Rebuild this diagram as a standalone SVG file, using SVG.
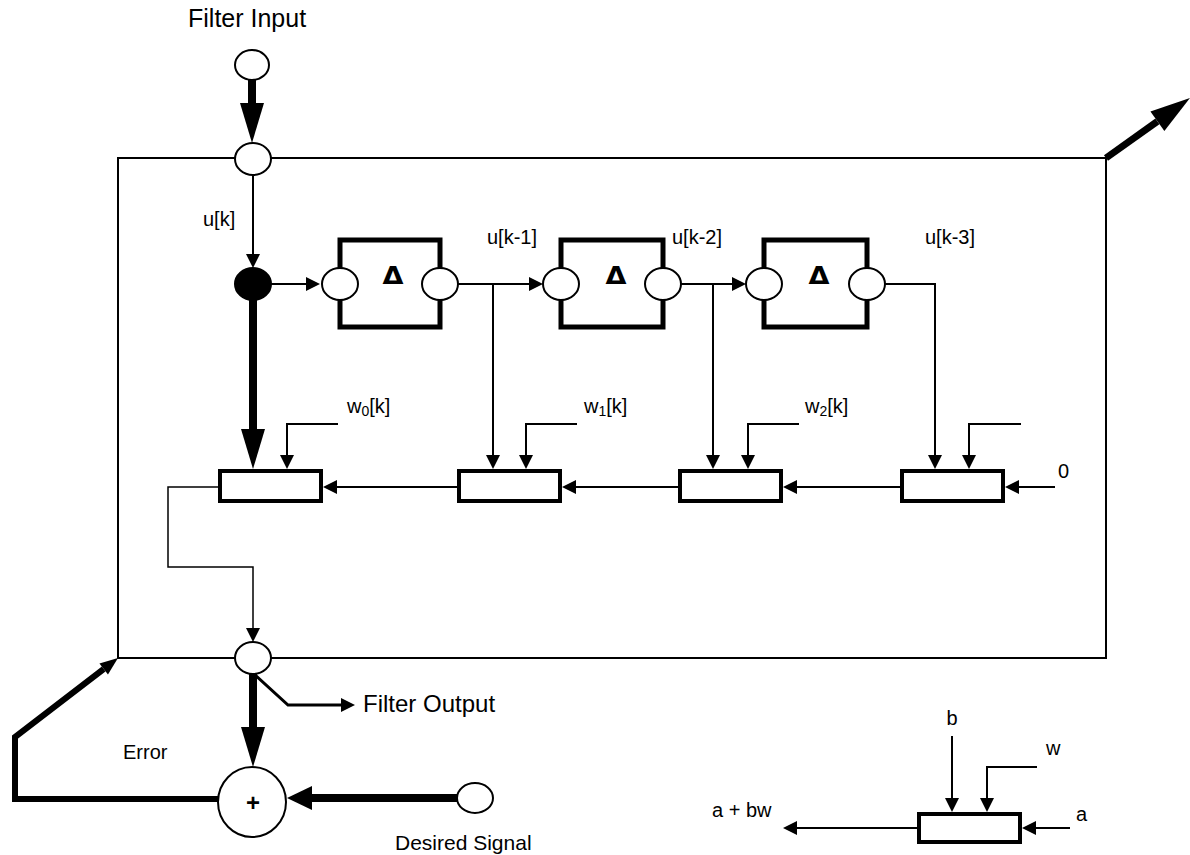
<svg xmlns="http://www.w3.org/2000/svg" width="1190" height="855" viewBox="0 0 1190 855">
<defs>
<style>
.t{font-family:"Liberation Sans",Arial,sans-serif;fill:#000}
.lbl{font-size:20px}
.thin{fill:none;stroke:#000;stroke-width:2}
.hair{fill:none;stroke:#000;stroke-width:1.5}
.thick{fill:none;stroke:#000;stroke-width:8}
.mid{fill:none;stroke:#000;stroke-width:6}
.node{fill:#fff;stroke:#000;stroke-width:2}
.box{fill:#fff;stroke:#000;stroke-width:5}
.mul{fill:#fff;stroke:#000;stroke-width:4}
.delta{font-family:"DejaVu Sans",sans-serif;font-size:24px;font-weight:bold;text-anchor:middle}
</style>
<marker id="ah" markerUnits="userSpaceOnUse" markerWidth="14" markerHeight="14" refX="0" refY="7" orient="auto" overflow="visible"><path d="M0,0 L14,7 L0,14 Z" fill="#000"/></marker>
<marker id="ahL" markerUnits="userSpaceOnUse" markerWidth="40" markerHeight="24" refX="0" refY="12" orient="auto" overflow="visible"><path d="M0,0 L40,12 L0,24 Z" fill="#000"/></marker>
<marker id="ahS" markerUnits="userSpaceOnUse" markerWidth="24" markerHeight="24" refX="0" refY="12" orient="auto" overflow="visible"><path d="M0,0 L25,12 L0,24 Z" fill="#000"/></marker>
<marker id="ahE" markerUnits="userSpaceOnUse" markerWidth="18" markerHeight="14" refX="0" refY="7" orient="auto" overflow="visible"><path d="M0,0 L18,7 L0,14 Z" fill="#000"/></marker>
</defs>
<rect width="1190" height="855" fill="#fff"/>

<g id="frame"><rect x="118" y="158" width="988" height="500" class="thin"/></g>

<g id="connectors">
<path d="M252,80 V103" class="thick" marker-end="url(#ahL)"/>
<path d="M253,175 V254" class="thin" marker-end="url(#ah)"/>
<path d="M271,284 H306" class="thin" marker-end="url(#ah)"/>
<path d="M458,284 H529" class="thin" marker-end="url(#ah)"/>
<path d="M681,284 H732" class="thin" marker-end="url(#ah)"/>
<path d="M493,284 V455" class="thin" marker-end="url(#ah)"/>
<path d="M713,284 V455" class="thin" marker-end="url(#ah)"/>
<path d="M885,284 H935 V455" class="thin" marker-end="url(#ah)"/>
<path d="M253,300 V429" class="thick" marker-end="url(#ahL)"/>
<path d="M338,424 H287 V455" class="thin" marker-end="url(#ah)"/>
<path d="M577,424 H526 V455" class="thin" marker-end="url(#ah)"/>
<path d="M799,424 H748 V455" class="thin" marker-end="url(#ah)"/>
<path d="M1021,424 H969 V455" class="thin" marker-end="url(#ah)"/>
<path d="M1055,487 H1019" class="thin" marker-end="url(#ah)"/>
<path d="M902,487 H797" class="thin" marker-end="url(#ah)"/>
<path d="M680,487 H576" class="thin" marker-end="url(#ah)"/>
<path d="M459,487 H337" class="thin" marker-end="url(#ah)"/>
<path d="M218,487 H168 V567 H253 V628" class="hair" marker-end="url(#ah)"/>
<path d="M253,673 V727" class="thick" marker-end="url(#ahL)"/>
<path d="M253,673 L288,705 H341" fill="none" stroke="#000" stroke-width="3" marker-end="url(#ah)"/>
<path d="M457,798 H312" class="thick" marker-end="url(#ahS)"/>
<path d="M218,799 H15 V737 L103.7,669" class="mid" stroke-linejoin="miter" marker-end="url(#ahE)"/>
<path d="M1106,158 L1157.4,121.3" fill="none" stroke="#000" stroke-width="7" marker-end="url(#ahL)"/>
<path d="M952,736 V798" class="thin" marker-end="url(#ah)"/>
<path d="M1037,767 H987 V798" class="thin" marker-end="url(#ah)"/>
<path d="M1070,828 H1036" class="thin" marker-end="url(#ah)"/>
<path d="M917,828 H797" class="thin" marker-end="url(#ah)"/>
</g>

<g id="filter-input"><ellipse cx="252" cy="65" rx="17" ry="15" class="node"/><text x="188" y="27" class="t" font-size="25">Filter Input</text></g>
<g id="input-junction"><ellipse cx="253" cy="159" rx="18" ry="16" class="node"/></g>
<g id="tap-node"><ellipse cx="253" cy="284" rx="18" ry="16" fill="#000" stroke="#000" stroke-width="2"/><text x="203" y="226" class="t lbl">u[k]</text></g>

<g id="delay1"><rect x="340" y="240" width="100" height="87" class="box"/><ellipse cx="340" cy="284" rx="18" ry="16" class="node"/><ellipse cx="440" cy="284" rx="18" ry="16" class="node"/><text x="393" y="284" class="delta" textLength="21" lengthAdjust="spacingAndGlyphs">Δ</text></g>
<g id="delay2"><rect x="561" y="240" width="102" height="87" class="box"/><ellipse cx="561" cy="284" rx="18" ry="16" class="node"/><ellipse cx="663" cy="284" rx="18" ry="16" class="node"/><text x="616" y="284" class="delta" textLength="21" lengthAdjust="spacingAndGlyphs">Δ</text></g>
<g id="delay3"><rect x="764" y="240" width="103" height="87" class="box"/><ellipse cx="764" cy="284" rx="18" ry="16" class="node"/><ellipse cx="867" cy="284" rx="18" ry="16" class="node"/><text x="819" y="284" class="delta" textLength="21" lengthAdjust="spacingAndGlyphs">Δ</text></g>

<g id="labels-u">
<text x="487" y="244" class="t lbl">u[k-1]</text>
<text x="672" y="244" class="t lbl">u[k-2]</text>
<text x="925" y="244" class="t lbl">u[k-3]</text>
</g>

<g id="mult1"><rect x="220" y="471" width="101" height="30" class="mul"/><text x="347" y="413" class="t lbl">w<tspan font-size="14" dy="3">0</tspan><tspan dy="-3">[k]</tspan></text></g>
<g id="mult2"><rect x="459" y="471" width="101" height="30" class="mul"/><text x="584" y="413" class="t lbl">w<tspan font-size="14" dy="3">1</tspan><tspan dy="-3">[k]</tspan></text></g>
<g id="mult3"><rect x="680" y="471" width="101" height="30" class="mul"/><text x="805" y="413" class="t lbl">w<tspan font-size="14" dy="3">2</tspan><tspan dy="-3">[k]</tspan></text></g>
<g id="mult4"><rect x="902" y="471" width="101" height="30" class="mul"/><text x="1058" y="478" class="t lbl">0</text></g>

<g id="output-junction"><ellipse cx="253" cy="658" rx="18" ry="16" class="node"/><text x="363" y="712" class="t" font-size="24">Filter Output</text></g>
<g id="sum"><ellipse cx="252" cy="802" rx="34" ry="35" class="node"/><text x="253" y="811" class="t" font-size="24" font-weight="bold" text-anchor="middle">+</text><text x="123" y="759" class="t lbl">Error</text></g>
<g id="desired"><ellipse cx="475" cy="798" rx="18" ry="15" class="node"/><text x="395" y="850" class="t" font-size="21">Desired Signal</text></g>

<g id="legend"><rect x="919" y="814" width="101" height="28" class="mul"/>
<text x="952" y="725" class="t lbl" text-anchor="middle">b</text>
<text x="1046" y="755" class="t lbl">w</text>
<text x="712" y="817" class="t lbl">a + bw</text>
<text x="1076" y="821" class="t lbl">a</text>
</g>
</svg>
